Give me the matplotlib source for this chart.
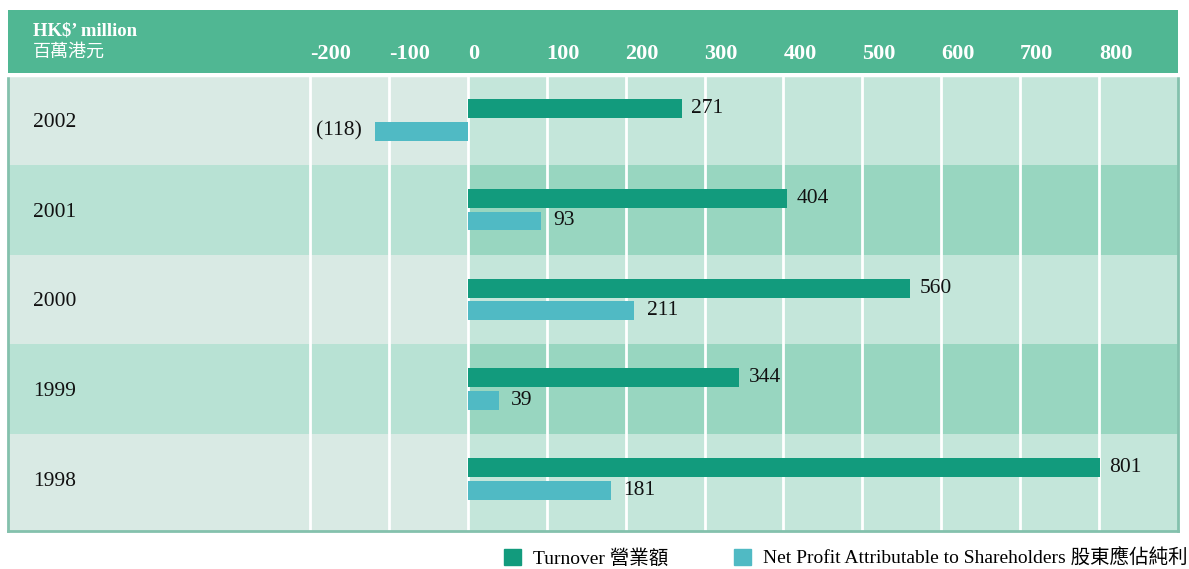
import matplotlib.pyplot as plt
from matplotlib.patches import Patch
from matplotlib.font_manager import FontProperties

# data
years = ['2002', '2001', '2000', '1999', '1998']
turnover = [271, 404, 560, 344, 801]
net_profit = [-118, 93, 211, 39, 181]
ticks = [-200, -100, 0, 100, 200, 300, 400, 500, 600, 700, 800]

turnover_color = '#129b7d'
profit_color = '#50bac4'
header_color = '#50b793'
border_color = '#84c1ad'
light_left, light_right = '#d9eae4', '#c4e6da'
dark_left, dark_right = '#b8e2d4', '#98d6c0'

serif = 'Liberation Serif'
mixed = [serif, 'Noto Sans CJK TC']

W, H = 1189, 569
fig = plt.figure(figsize=(W / 100, H / 100), dpi=100)

# header band
hdr = fig.add_axes([8 / W, 1 - 73 / H, 1170 / W, 63 / H])
hdr.set_facecolor(header_color)
hdr.set_xticks([])
hdr.set_yticks([])
for s in hdr.spines.values():
    s.set_visible(False)

ax = fig.add_axes([8 / W, 1 - 531 / H, 1170 / W, 456 / H])
xmin, xmax = -582.8, 900.1
ax.set_xlim(xmin, xmax)
ax.set_ylim(len(years) - 0.5 + 0.08, -0.5)
zero_frac = (0 - xmin) / (xmax - xmin)

# row backgrounds
for i in range(len(years)):
    lo = i - 0.5
    hi = i + 0.5 if i < len(years) - 1 else len(years) - 0.5 + 0.08
    left_c, right_c = (light_left, light_right) if i % 2 == 0 else (dark_left, dark_right)
    ax.axhspan(lo, hi, xmin=0, xmax=zero_frac, color=left_c, lw=0, zorder=0)
    ax.axhspan(lo, hi, xmin=zero_frac, xmax=1, color=right_c, lw=0, zorder=0)

for t in ticks:
    ax.axvline(t, color='white', lw=2, zorder=1)

ypos = list(range(len(years)))
b1 = ax.barh([y - 0.126 for y in ypos], turnover, height=0.21,
             color=turnover_color, zorder=2)
b2 = ax.barh([y + 0.126 for y in ypos], net_profit, height=0.21,
             color=profit_color, zorder=2)

ax.bar_label(b1, labels=[str(v) for v in turnover], padding=7,
             fontsize=15.5, family=serif, color='#111111')
ax.bar_label(b2, labels=[str(v) if v >= 0 else '(%d)' % -v for v in net_profit],
             padding=9, fontsize=15.5, family=serif, color='#111111')

# x tick labels sit in the header
ax.xaxis.tick_top()
ax.set_xticks(ticks)
ax.set_xticklabels([str(t) for t in ticks], fontsize=16, fontweight='bold',
                   family=serif, color='white')
for lab in ax.get_xticklabels():
    lab.set_horizontalalignment('left')
ax.tick_params(axis='x', length=0, pad=8)

# year labels inside the plot on the left
ax.set_yticks(ypos)
ax.set_yticklabels(years, fontsize=15.5, family=serif, color='#111111')
for lab in ax.get_yticklabels():
    lab.set_horizontalalignment('left')
ax.tick_params(axis='y', length=0, pad=-18)

for side in ['left', 'right', 'bottom']:
    ax.spines[side].set_color(border_color)
    ax.spines[side].set_linewidth(2)
ax.spines['top'].set_color('white')
ax.spines['top'].set_linewidth(2.5)

fig.text(33 / W, 1 - 31 / H, 'HK$\u2019 million', fontsize=13.5, fontweight='bold',
         family=serif, color='white', va='center')
fig.text(33 / W, 1 - 52 / H, '百萬港元', fontsize=13, family='Noto Sans CJK TC',
         color='white', va='center')

handles = [Patch(color=turnover_color), Patch(color=profit_color)]
labels = ['Turnover 營業額', 'Net Profit Attributable to Shareholders 股東應佔純利']
fig.legend(handles, labels, loc='center left', bbox_to_anchor=(486 / W, 1 - 558 / H),
           ncol=2, frameon=False, handlelength=0.88, handleheight=0.88,
           handletextpad=0.62, columnspacing=3.4,
           prop=FontProperties(family=mixed, size=14))

fig.savefig('out.png', dpi=100)
